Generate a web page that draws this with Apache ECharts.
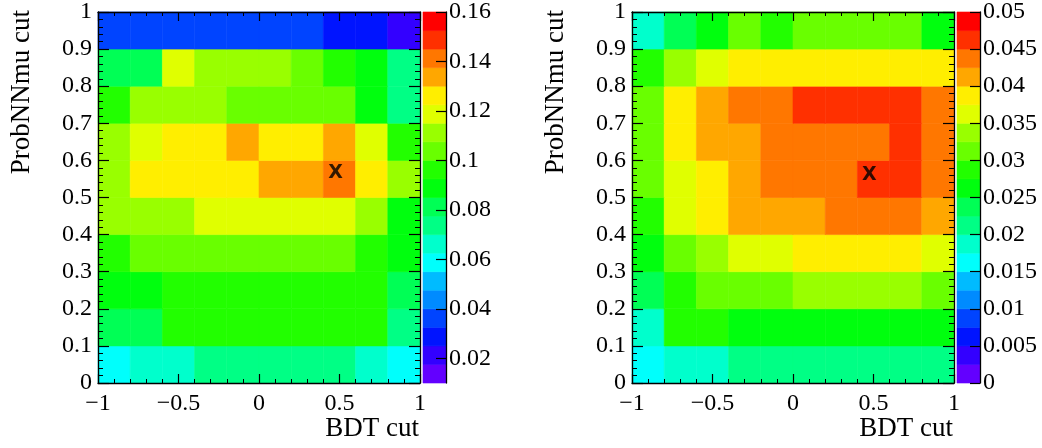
<!DOCTYPE html>
<html><head><meta charset="utf-8">
<script src="https://cdn.jsdelivr.net/npm/echarts@6/dist/echarts.min.js"></script>
<style>html,body{margin:0;padding:0;background:#fff}#c{width:1042px;height:448px}</style>
</head><body><div id="c"></div>
<script>
// ---- data ----
const bdtEdges = [-1, -0.8, -0.6, -0.4, -0.2, 0, 0.2, 0.4, 0.6, 0.8, 1];
const probEdges = [0, 0.1, 0.2, 0.3, 0.4, 0.5, 0.6, 0.7, 0.8, 0.9, 1];
// rows from ProbNNmu 0-0.1 (bottom) to 0.9-1 (top), columns BDT -1..1
const effLeft = [
  [0.059, 0.066, 0.066, 0.074, 0.074, 0.074, 0.074, 0.074, 0.066, 0.059],
  [0.081, 0.081, 0.096, 0.096, 0.096, 0.096, 0.096, 0.096, 0.096, 0.074],
  [0.089, 0.089, 0.096, 0.096, 0.096, 0.096, 0.096, 0.096, 0.096, 0.081],
  [0.096, 0.104, 0.104, 0.104, 0.104, 0.104, 0.104, 0.104, 0.096, 0.089],
  [0.111, 0.111, 0.111, 0.119, 0.119, 0.119, 0.119, 0.119, 0.111, 0.089],
  [0.111, 0.126, 0.126, 0.126, 0.126, 0.134, 0.134, 0.141, 0.126, 0.111],
  [0.111, 0.119, 0.126, 0.126, 0.134, 0.126, 0.126, 0.134, 0.119, 0.096],
  [0.096, 0.111, 0.111, 0.111, 0.104, 0.104, 0.104, 0.104, 0.089, 0.074],
  [0.081, 0.081, 0.119, 0.111, 0.111, 0.111, 0.104, 0.096, 0.089, 0.074],
  [0.036, 0.036, 0.036, 0.036, 0.036, 0.036, 0.036, 0.029, 0.029, 0.021]
];
const effRight = [
  [0.0163, 0.0188, 0.0188, 0.0213, 0.0213, 0.0213, 0.0213, 0.0213, 0.0213, 0.0213],
  [0.0188, 0.0288, 0.0288, 0.0263, 0.0263, 0.0263, 0.0263, 0.0263, 0.0263, 0.0263],
  [0.0238, 0.0288, 0.0313, 0.0313, 0.0313, 0.0338, 0.0338, 0.0338, 0.0338, 0.0313],
  [0.0263, 0.0313, 0.0338, 0.0363, 0.0363, 0.0388, 0.0388, 0.0388, 0.0388, 0.0363],
  [0.0288, 0.0363, 0.0388, 0.0413, 0.0413, 0.0413, 0.0438, 0.0438, 0.0438, 0.0413],
  [0.0313, 0.0363, 0.0388, 0.0413, 0.0438, 0.0438, 0.0438, 0.0463, 0.0463, 0.0438],
  [0.0313, 0.0388, 0.0413, 0.0413, 0.0438, 0.0438, 0.0438, 0.0438, 0.0463, 0.0438],
  [0.0313, 0.0388, 0.0413, 0.0438, 0.0438, 0.0463, 0.0463, 0.0463, 0.0463, 0.0438],
  [0.0288, 0.0338, 0.0363, 0.0388, 0.0388, 0.0388, 0.0388, 0.0388, 0.0388, 0.0388],
  [0.0188, 0.0238, 0.0263, 0.0313, 0.0288, 0.0313, 0.0313, 0.0313, 0.0313, 0.0263]
];
const bestLeft = [0.476, 0.565];
const bestRight = [0.474, 0.561];
const zRangeLeft = [0.01, 0.16];
const zRangeRight = [0, 0.05];
const zTicksLeft = [0.02, 0.04, 0.06, 0.08, 0.1, 0.12, 0.14, 0.16];
const zTicksRight = [0, 0.005, 0.01, 0.015, 0.02, 0.025, 0.03, 0.035, 0.04, 0.045, 0.05];
const nLevels = 20;
const xTitle = 'BDT cut';
const yTitle = 'ProbNNmu cut';
const bestLabel = 'X';

// ---- style ----
const palette = ['#6300ff','#3300ff','#0014ff','#0044ff','#008bff','#00bbff','#00fffc','#00ffcc','#00ff85','#00ff55',
                 '#00ff0e','#22ff00','#69ff00','#99ff00','#e0ff00','#ffee00','#ffa700','#ff7700','#ff3000','#ff0000'];
const SERIF = '"Liberation Serif", "DejaVu Serif", serif';
const LABEL_FS = 24, TITLE_FS = 27;

function cells(z) {
  const out = [];
  for (let r = 0; r < z.length; r++)
    for (let c = 0; c < z[r].length; c++)
      out.push([bdtEdges[c], probEdges[r], bdtEdges[c + 1], probEdges[r + 1], z[r][c]]);
  return out;
}
function bands(range) {
  const out = [], step = (range[1] - range[0]) / nLevels;
  for (let j = 0; j < nLevels; j++) {
    const lo = range[0] + j * step, hi = range[0] + (j + 1) * step;
    out.push([0, lo, 1, hi, (lo + hi) / 2]);
  }
  return out;
}
function pieces(range) {
  const out = [], step = (range[1] - range[0]) / nLevels;
  for (let j = 0; j < nLevels; j++) {
    const p = { gte: range[0] + j * step, color: palette[j] };
    if (j < nLevels - 1) p.lt = range[0] + (j + 1) * step; else p.lte = range[1] + 1e-9;
    out.push(p);
  }
  return out;
}
function renderCell(params, api) {
  const p0 = api.coord([api.value(0), api.value(3)]);
  const p1 = api.coord([api.value(2), api.value(1)]);
  const col = api.visual('color');
  return { type: 'rect', shape: { x: p0[0], y: p0[1], width: p1[0] - p0[0], height: p1[1] - p0[1] },
           style: { fill: col, stroke: col, lineWidth: 0.6 } };
}
const fmt = v => { v = +(+v).toFixed(4); return v < 0 ? '\u2212' + Math.abs(v) : String(v); };

const GX = [98, 632], GT = 9, GW = 322, GH = 374, CBW = 23, CBGAP = 3;
const grids = [], xAxes = [], yAxes = [], series = [], graphics = [], vms = [];
[[effLeft, bestLeft, zRangeLeft, zTicksLeft], [effRight, bestRight, zRangeRight, zTicksRight]].forEach((cfg, k) => {
  const [z, best, range, zt] = cfg;
  const gi = grids.length;
  grids.push({ left: GX[k], top: GT, width: GW, height: GH });
  grids.push({ left: GX[k] + GW + CBGAP, top: GT, width: CBW, height: GH });
  const line = { show: true, onZero: false, lineStyle: { color: '#000', width: 1.3 } };
  const xBase = { gridIndex: gi, type: 'value', min: -1, max: 1, interval: 0.5, z: 5,
    axisLine: line, splitLine: { show: false },
    axisTick: { show: true, inside: true, length: 9, lineStyle: { color: '#000', width: 1.2 } },
    minorTick: { show: true, splitNumber: 5, length: 4, lineStyle: { color: '#000', width: 1 } } };
  const yBase = { gridIndex: gi, type: 'value', min: 0, max: 1, interval: 0.1, z: 5,
    axisLine: line, splitLine: { show: false },
    axisTick: { show: true, inside: true, length: 11, lineStyle: { color: '#000', width: 1.2 } },
    minorTick: { show: true, splitNumber: 5, length: 5, lineStyle: { color: '#000', width: 1 } } };
  const xi = xAxes.length, yi = yAxes.length;
  xAxes.push(Object.assign({}, xBase, { position: 'bottom',
    axisLabel: { show: true, formatter: fmt, fontFamily: SERIF, fontSize: LABEL_FS, color: '#000', margin: 9 } }));
  xAxes.push(Object.assign({}, xBase, { position: 'top', axisLabel: { show: false } }));
  xAxes.push({ gridIndex: gi + 1, type: 'value', min: 0, max: 1, show: false });
  yAxes.push(Object.assign({}, yBase, { position: 'left',
    axisLabel: { show: true, formatter: fmt, fontFamily: SERIF, fontSize: LABEL_FS, color: '#000', margin: 6 } }));
  yAxes.push(Object.assign({}, yBase, { position: 'right', axisLabel: { show: false } }));
  yAxes.push({ gridIndex: gi + 1, type: 'value', position: 'right', min: range[0], max: range[1], z: 5,
    splitLine: { show: false },
    axisLine: { show: true, onZero: false, lineStyle: { color: '#000', width: 1.3 } },
    axisTick: { show: true, inside: true, length: 10, customValues: zt, lineStyle: { color: '#000', width: 1.2 } },
    axisLabel: { show: true, customValues: zt, formatter: fmt, fontFamily: SERIF, fontSize: LABEL_FS, color: '#000', margin: 3 } });
  const si = series.length;
  series.push({ type: 'custom', xAxisIndex: xi, yAxisIndex: yi, renderItem: renderCell,
    encode: { x: [0, 2], y: [1, 3] }, data: cells(z), z: 2, silent: true });
  series.push({ type: 'custom', xAxisIndex: xi + 2, yAxisIndex: yi + 2, renderItem: renderCell,
    encode: { x: [0, 2], y: [1, 3] }, data: bands(range), z: 2, silent: true });
  series.push({ type: 'scatter', xAxisIndex: xi, yAxisIndex: yi, data: [best], symbol: 'circle', symbolSize: 2, z: 6,
    itemStyle: { color: 'rgba(0,0,0,0)' },
    label: { show: true, position: 'inside', formatter: bestLabel, color: '#000',
      fontFamily: '"DejaVu Sans", "Liberation Sans", sans-serif', fontWeight: 'bold', fontSize: 19 } });
  vms.push({ type: 'piecewise', show: false, seriesIndex: [si, si + 1], dimension: 4, pieces: pieces(range) });
  graphics.push({ type: 'text', x: GX[k] - 76, y: GT + 1, rotation: Math.PI / 2,
    style: { text: yTitle, font: TITLE_FS + 'px ' + SERIF, fill: '#000', align: 'right', verticalAlign: 'middle',
             textAlign: 'right', textVerticalAlign: 'middle' } });
  graphics.push({ type: 'text', x: GX[k] + GW - 1, y: 429,
    style: { text: xTitle, font: TITLE_FS + 'px ' + SERIF, fill: '#000', align: 'right', verticalAlign: 'middle',
             textAlign: 'right', textVerticalAlign: 'middle' } });
});

const chart = echarts.init(document.getElementById('c'), null, { renderer: 'canvas' });
chart.setOption({
  animation: false,
  backgroundColor: '#fff',
  grid: grids, xAxis: xAxes, yAxis: yAxes, visualMap: vms, series: series, graphic: graphics
});
</script></body></html>
